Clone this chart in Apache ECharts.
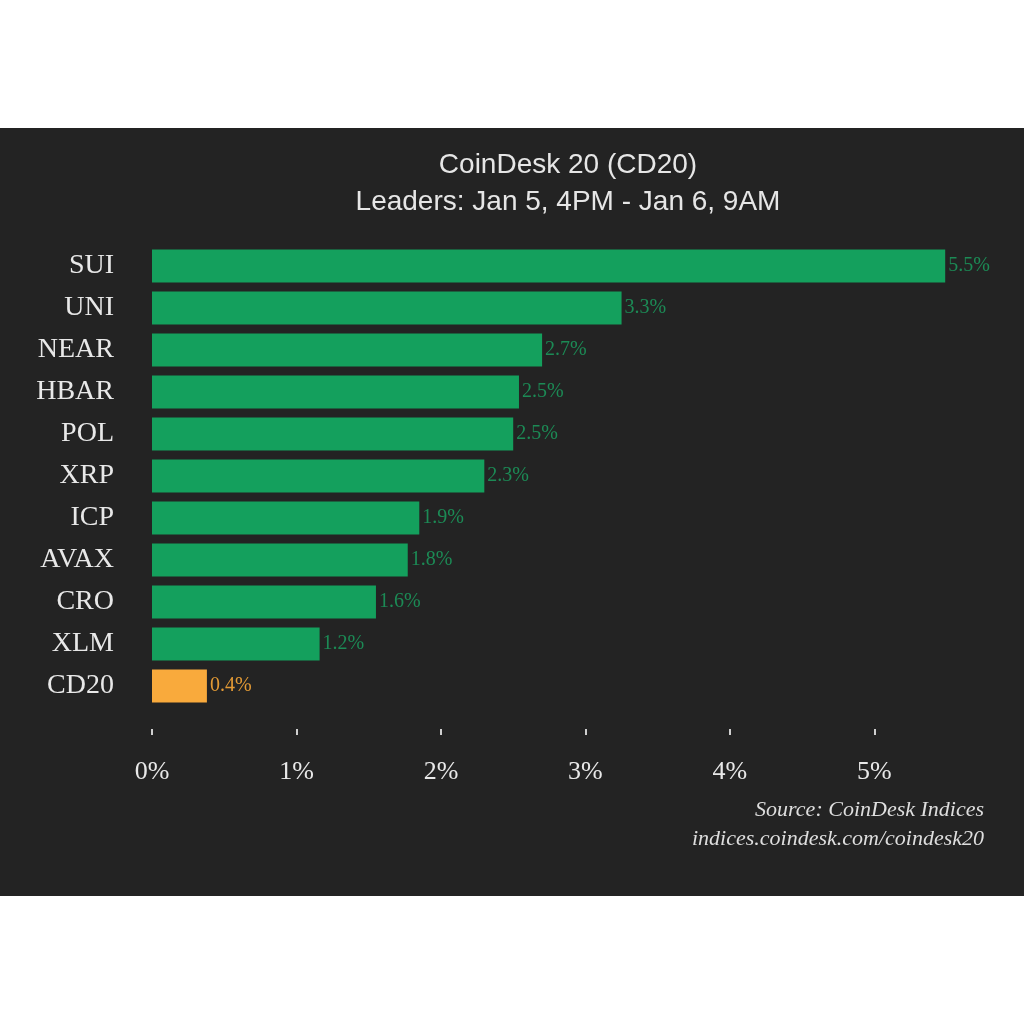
<!DOCTYPE html>
<html>
<head>
<meta charset="utf-8">
<script src="https://cdn.jsdelivr.net/npm/echarts@6/dist/echarts.min.js"></script>
<style>
html, body { margin: 0; padding: 0; background: #ffffff; }
#chart { width: 1024px; height: 1024px; }
</style>
</head>
<body>
<div id="chart"></div>
<script>
// data (bar lengths estimated, labels rounded to 1 decimal)
var coins = ['SUI', 'UNI', 'NEAR', 'HBAR', 'POL', 'XRP', 'ICP', 'AVAX', 'CRO', 'XLM', 'CD20'];
var changes = [5.49, 3.25, 2.7, 2.54, 2.5, 2.3, 1.85, 1.77, 1.55, 1.16, 0.38];
var xTicks = [0, 1, 2, 3, 4, 5];
var titleLines = ['CoinDesk 20 (CD20)', 'Leaders: Jan 5, 4PM - Jan 6, 9AM'];
var sourceLines = ['Source: CoinDesk Indices', 'indices.coindesk.com/coindesk20'];

var green = '#14a05d';
var orange = '#f9aa3c';
var serif = '"Liberation Serif", "DejaVu Serif", serif';

var chart = echarts.init(document.getElementById('chart'));

var barData = changes.map(function (v, i) {
	var isIndex = coins[i] === 'CD20';
	return {
		value: v,
		itemStyle: { color: isIndex ? orange : green },
		label: { color: isIndex ? '#e39a35' : '#1c8a55' }
	};
});

chart.setOption({
	backgroundColor: '#ffffff',
	animation: false,
	graphic: [
		{
			type: 'rect',
			z: -10,
			shape: { x: 0, y: 128, width: 1024, height: 768 },
			style: { fill: '#232323' }
		},
		{
			type: 'text',
			x: 568, y: 147,
			style: {
				text: titleLines.join('\n'),
				align: 'center',
				fill: '#e6e6e6',
				font: '28px "Liberation Sans", Arial, sans-serif',
				lineHeight: 37
			}
		},
		{
			type: 'text',
			x: 984, y: 796,
			style: {
				text: sourceLines.join('\n'),
				align: 'right',
				fill: '#dedede',
				font: 'italic 22px ' + serif,
				lineHeight: 29
			}
		}
	],
	grid: { left: 152, right: 34, top: 245, height: 462 },
	xAxis: {
		type: 'value',
		min: 0,
		max: 5.8,
		interval: 1,
		offset: 22,
		splitLine: { show: false },
		axisLine: { show: false },
		axisTick: { show: true, length: 6, lineStyle: { color: '#cfcfcf', width: 2 } },
		axisLabel: {
			margin: 30,
			color: '#e8e8e8',
			fontFamily: serif,
			fontSize: 26,
			formatter: function (v) { return xTicks.indexOf(v) >= 0 ? v + '%' : ''; },
			showMaxLabel: false
		}
	},
	yAxis: {
		type: 'category',
		data: coins,
		inverse: true,
		axisLine: { show: false },
		axisTick: { show: false },
		axisLabel: {
			margin: 38,
			color: '#e8e8e8',
			fontFamily: serif,
			fontSize: 28
		}
	},
	series: [{
		type: 'bar',
		data: barData,
		barCategoryGap: '21%',
		label: {
			show: true,
			position: 'right',
			distance: 3,
			fontFamily: serif,
			fontSize: 20,
			formatter: function (p) { return p.value.toFixed(1) + '%'; }
		}
	}]
});
</script>
</body>
</html>
